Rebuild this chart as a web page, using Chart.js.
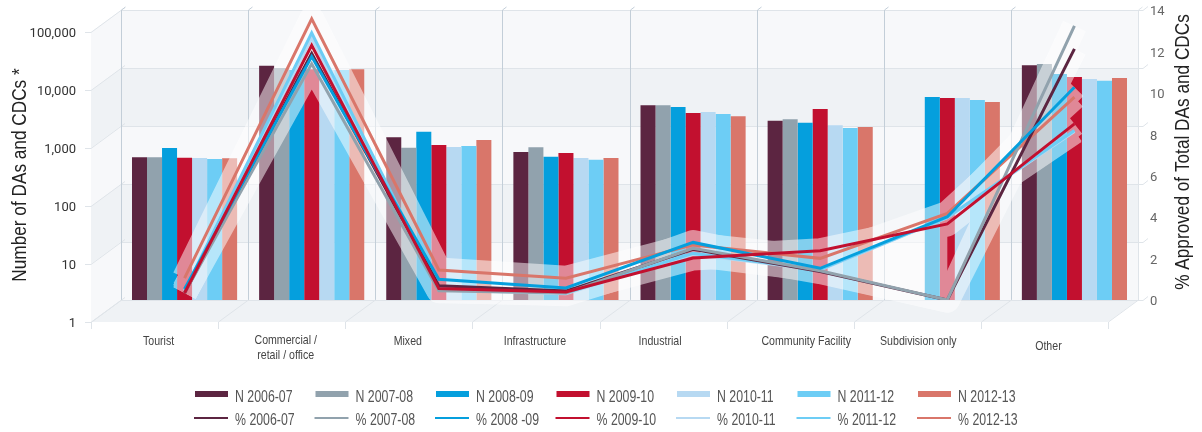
<!DOCTYPE html>
<html>
<head>
<meta charset="utf-8">
<title>DAs and CDCs by type</title>
<style>
  html, body { margin: 0; padding: 0; background: #fff; }
  #wrap { width: 1202px; height: 432px; }
</style>
<script src="https://cdn.jsdelivr.net/npm/chart.js@4/dist/chart.umd.min.js"></script>
</head>
<body>
<div id="wrap"><canvas id="chart" width="1202" height="432"></canvas></div>
<script>
const categories = ['Tourist', ['Commercial /', 'retail / office'], 'Mixed', 'Infrastructure', 'Industrial', 'Community Facility', 'Subdivision only', 'Other'];
const decadeTicks = [1, 10, 100, 1000, 10000, 100000];

// Number of DAs and CDCs
const n0607 = [289, 10960, 638, 356, 2275, 1235, null, 11120];
const n0708 = [289, 10000, 423, 430, 2275, 1304, null, 11720];
const n0809 = [418, 9240, 798, 296, 2127, 1140, 3162, 7880];
const n0910 = [284, 9500, 470, 342, 1675, 1963, 3040, 6994];
const n1011 = [281, 9240, 434, 281, 1742, 1028, 3040, 6460];
const n1112 = [270, 9240, 452, 262, 1610, 924, 2807, 6040];
const n1213 = [277, 9490, 574, 281, 1468, 961, 2594, 6730];

// % approved of total
const pct0607 = [0.34, 11.9, 0.69, 0.43, 2.45, 1.37, 0, 12.12];
const pct0708 = [0.34, 11.4, 0.45, 0.34, 2.5, 1.41, 0, 13.23];
const pct0809 = [0.53, 11.75, 1.0, 0.58, 2.78, 1.53, 4.02, 10.27];
const pct0910 = [0.34, 12.3, 0.55, 0.39, 2.03, 2.38, 3.67, 8.5];
const pct1011 = [0.45, 12.65, 0.48, 0.3, 2.2, 1.45, 3.98, 8.13];
const pct1112 = [0.45, 12.9, 0.58, 0.34, 2.25, 1.48, 3.99, 8.18];
const pct1213 = [1.06, 13.57, 1.45, 1.05, 2.66, 2.01, 4.18, 9.79];

const nLabels = ['N 2006-07', 'N 2007-08', 'N 2008-09', 'N 2009-10', 'N 2010-11', 'N 2011-12', 'N 2012-13'];
const pctLabels = ['% 2006-07', '% 2007-08', '% 2008 -09', '% 2009-10', '% 2010-11', '% 2011-12', '% 2012-13'];
const colors = ['#5c2541', '#91a2ad', '#059fdd', '#c2102f', '#b7d9f2', '#6dcdf5', '#d9766a'];
const nSeries = [n0607, n0708, n0809, n0910, n1011, n1112, n1213];
const pctSeries = [pct0607, pct0708, pct0809, pct0910, pct1011, pct1112, pct1213];
// which line goes on top of which: low order draws last
const lineOrder = [4, 3, 2, 1, 7, 6, 5];

const FONT = '"Liberation Sans", sans-serif';
const DEPTH_X = 30, DEPTH_Y = 22;
const LABEL_SHIFT = [-26, -26, -31, -31, -33, -14, -29, -26];
const LABEL_Y = [341, 340, 341, 341, 341, 341, 341, 346];

// no condensed face is installed, so squeeze the text sideways
function narrowText(ctx, text, x, y, squeeze) {
    ctx.save();
    ctx.translate(x, y);
    ctx.scale(squeeze, 1);
    ctx.fillText(text, 0, 0);
    ctx.restore();
}

const depthPlugin = {
    id: 'depth',
    beforeDraw() {
        this.haloDone = false;
    },
    beforeDatasetsDraw(chart) {
        const { ctx, chartArea: a, scales } = chart;
        const yN = scales.yN, x = scales.x;
        ctx.save();
        // back wall and left wall bands
        for (let i = 0; i < decadeTicks.length - 1; i++) {
            const y0 = yN.getPixelForValue(decadeTicks[i]);
            const y1 = yN.getPixelForValue(decadeTicks[i + 1]);
            ctx.fillStyle = i % 2 === 0 ? '#f7f8fa' : '#eff2f5';
            ctx.fillRect(a.left, y1, a.right - a.left, y0 - y1);
            ctx.beginPath();
            ctx.moveTo(a.left, y0);
            ctx.lineTo(a.left - DEPTH_X, y0 + DEPTH_Y);
            ctx.lineTo(a.left - DEPTH_X, y1 + DEPTH_Y);
            ctx.lineTo(a.left, y1);
            ctx.closePath();
            ctx.fill();
        }
        // floor
        ctx.fillStyle = '#eff2f5';
        ctx.beginPath();
        ctx.moveTo(a.left, a.bottom);
        ctx.lineTo(a.right, a.bottom);
        ctx.lineTo(a.right - DEPTH_X, a.bottom + DEPTH_Y);
        ctx.lineTo(a.left - DEPTH_X, a.bottom + DEPTH_Y);
        ctx.closePath();
        ctx.fill();

        // horizontal rules and side ticks
        ctx.lineWidth = 1;
        decadeTicks.forEach(v => {
            const y = Math.round(yN.getPixelForValue(v)) + 0.5;
            ctx.strokeStyle = '#dfe4e9';
            ctx.beginPath();
            ctx.moveTo(a.left - 36, y + DEPTH_Y);
            ctx.lineTo(a.left - DEPTH_X, y + DEPTH_Y);
            ctx.lineTo(a.left + 4, y - 3);
            ctx.moveTo(a.left, y);
            ctx.lineTo(a.right + 5, y);
            ctx.lineTo(a.right + 10, y - 4);
            ctx.stroke();
        });
        // category rules: wall, floor and front tick
        const step = (a.right - a.left) / categories.length;
        for (let i = 0; i <= categories.length; i++) {
            const gx = Math.round(i < categories.length ? x.getPixelForValue(i) - step / 2 : a.right) + 0.5;
            ctx.strokeStyle = i === categories.length ? '#dfe4e9' : '#c3ced8';
            ctx.beginPath();
            ctx.moveTo(gx + 4, a.top - 3);
            ctx.lineTo(gx, a.top);
            ctx.lineTo(gx, a.bottom);
            ctx.stroke();
            ctx.strokeStyle = '#dfe4e9';
            ctx.beginPath();
            ctx.moveTo(gx, a.bottom);
            ctx.lineTo(gx - DEPTH_X, a.bottom + DEPTH_Y);
            ctx.lineTo(gx - DEPTH_X, a.bottom + DEPTH_Y + 7);
            ctx.stroke();
        }
        ctx.restore();
    },
    beforeDatasetDraw(chart, args) {
        // pale glow under all the lines, once, after the last bar
        if (this.haloDone || chart.data.datasets[args.index].type !== 'line') return;
        this.haloDone = true;
        const off = document.createElement('canvas');
        off.width = chart.width;
        off.height = chart.height;
        const o = off.getContext('2d');
        o.strokeStyle = '#fff';
        o.fillStyle = '#fff';
        o.lineWidth = 25;
        o.lineJoin = 'round';
        o.lineCap = 'butt';
        const metas = [];
        chart.data.datasets.forEach((ds, i) => {
            if (ds.type !== 'line') return;
            const pts = chart.getDatasetMeta(i).data;
            metas.push(pts);
            o.beginPath();
            pts.forEach((pt, j) => {
                if (j === 0) o.moveTo(pt.x, pt.y); else o.lineTo(pt.x, pt.y);
            });
            o.stroke();
        });
        // the glow also closes the gap between the lines from Community Facility to Subdivision only
        const from = metas.map(p => p[5].y), to = metas.map(p => p[6].y);
        o.beginPath();
        o.moveTo(metas[0][5].x, Math.min(...from));
        o.lineTo(metas[0][6].x, Math.min(...to));
        o.lineTo(metas[0][6].x, Math.max(...to));
        o.lineTo(metas[0][5].x, Math.max(...from));
        o.closePath();
        o.fill();
        chart.ctx.save();
        chart.ctx.globalAlpha = 0.5;
        chart.ctx.drawImage(off, 0, 0);
        chart.ctx.restore();
    },
    afterDraw(chart) {
        const { ctx, scales } = chart;
        ctx.save();
        // category labels
        ctx.fillStyle = '#444';
        ctx.font = '13.5px ' + FONT;
        ctx.textAlign = 'center';
        ctx.textBaseline = 'middle';
        categories.forEach((c, i) => {
            const cx = scales.x.getPixelForValue(i) + LABEL_SHIFT[i];
            [].concat(c).forEach((line, k) => narrowText(ctx, line, cx, LABEL_Y[i] + k * 15, 0.785));
        });
        // axis titles
        ctx.fillStyle = '#222';
        ctx.font = '21px ' + FONT;
        ctx.save();
        ctx.translate(20, 175);
        ctx.rotate(-Math.PI / 2);
        narrowText(ctx, 'Number of DAs and CDCs *', 0, 0, 0.82);
        ctx.restore();
        ctx.save();
        ctx.translate(1183, 152);
        ctx.rotate(-Math.PI / 2);
        narrowText(ctx, '% Approved of Total DAs and CDCs', 0, 0, 0.82);
        ctx.restore();
        // legend, seven columns in two rows
        ctx.textAlign = 'left';
        ctx.font = '16px ' + FONT;
        chart.data.datasets.forEach(ds => {
            const isBar = ds.type === 'bar';
            const col = (isBar ? nLabels : pctLabels).indexOf(ds.label);
            const lx = 195 + col * 120.5;
            if (isBar) {
                ctx.fillStyle = ds.backgroundColor;
                ctx.fillRect(lx, 391, 33, 6);
            } else {
                ctx.fillStyle = ds.borderColor;
                ctx.fillRect(lx - 1, 417, 34, 2);
            }
            ctx.fillStyle = '#555';
            narrowText(ctx, ds.label, lx + 40, isBar ? 398 : 421, 0.77);
        });
        ctx.restore();
    },
};

const barSets = nLabels.map((label, i) => ({
    type: 'bar',
    label,
    data: nSeries[i],
    yAxisID: 'yN',
    backgroundColor: colors[i],
    borderWidth: 0,
    barPercentage: 1,
    categoryPercentage: 0.827,
    order: 10,
}));
const lineSets = pctLabels.map((label, i) => ({
    type: 'line',
    label,
    data: pctSeries[i],
    yAxisID: 'yPct',
    borderColor: colors[i],
    borderWidth: 3,
    tension: 0,
    pointRadius: 0,
    order: lineOrder[i],
}));

// tick padding also feeds the layout's top/bottom margins, so drop those
function fixScale(width) {
    return s => {
        s.width = width;
        s.paddingTop = 0;
        s.paddingBottom = 0;
    };
}

new Chart(document.getElementById('chart'), {
    data: {
        labels: categories,
        datasets: [...barSets, ...lineSets],
    },
    options: {
        responsive: false,
        animation: false,
        layout: { padding: { top: 10, left: 0, right: 0, bottom: 0 } },
        plugins: { legend: { display: false }, tooltip: { enabled: false } },
        scales: {
            x: {
                grid: { display: false },
                border: { display: false },
                ticks: { display: false },
                afterFit: s => { s.height = 132; },
            },
            yN: {
                type: 'logarithmic',
                position: 'left',
                min: 1,
                max: 100000,
                grid: { display: false, drawTicks: false },
                border: { display: false },
                afterBuildTicks: s => { s.ticks = decadeTicks.map(value => ({ value })); },
                afterFit: fixScale(121),
                ticks: {
                    padding: 45,
                    labelOffset: DEPTH_Y + 2,
                    color: '#333',
                    font: { family: 'Roboto', size: 13 },
                    callback: v => Number(v).toLocaleString('en-US'),
                },
            },
            yPct: {
                position: 'right',
                min: 0,
                max: 14,
                grid: { display: false, drawTicks: false },
                border: { display: false },
                afterFit: fixScale(64),
                ticks: {
                    stepSize: 2,
                    padding: 12,
                    labelOffset: 2,
                    color: '#666',
                    font: { family: 'Roboto', size: 13 },
                },
            },
        },
    },
    plugins: [depthPlugin],
});
</script>
</body>
</html>
